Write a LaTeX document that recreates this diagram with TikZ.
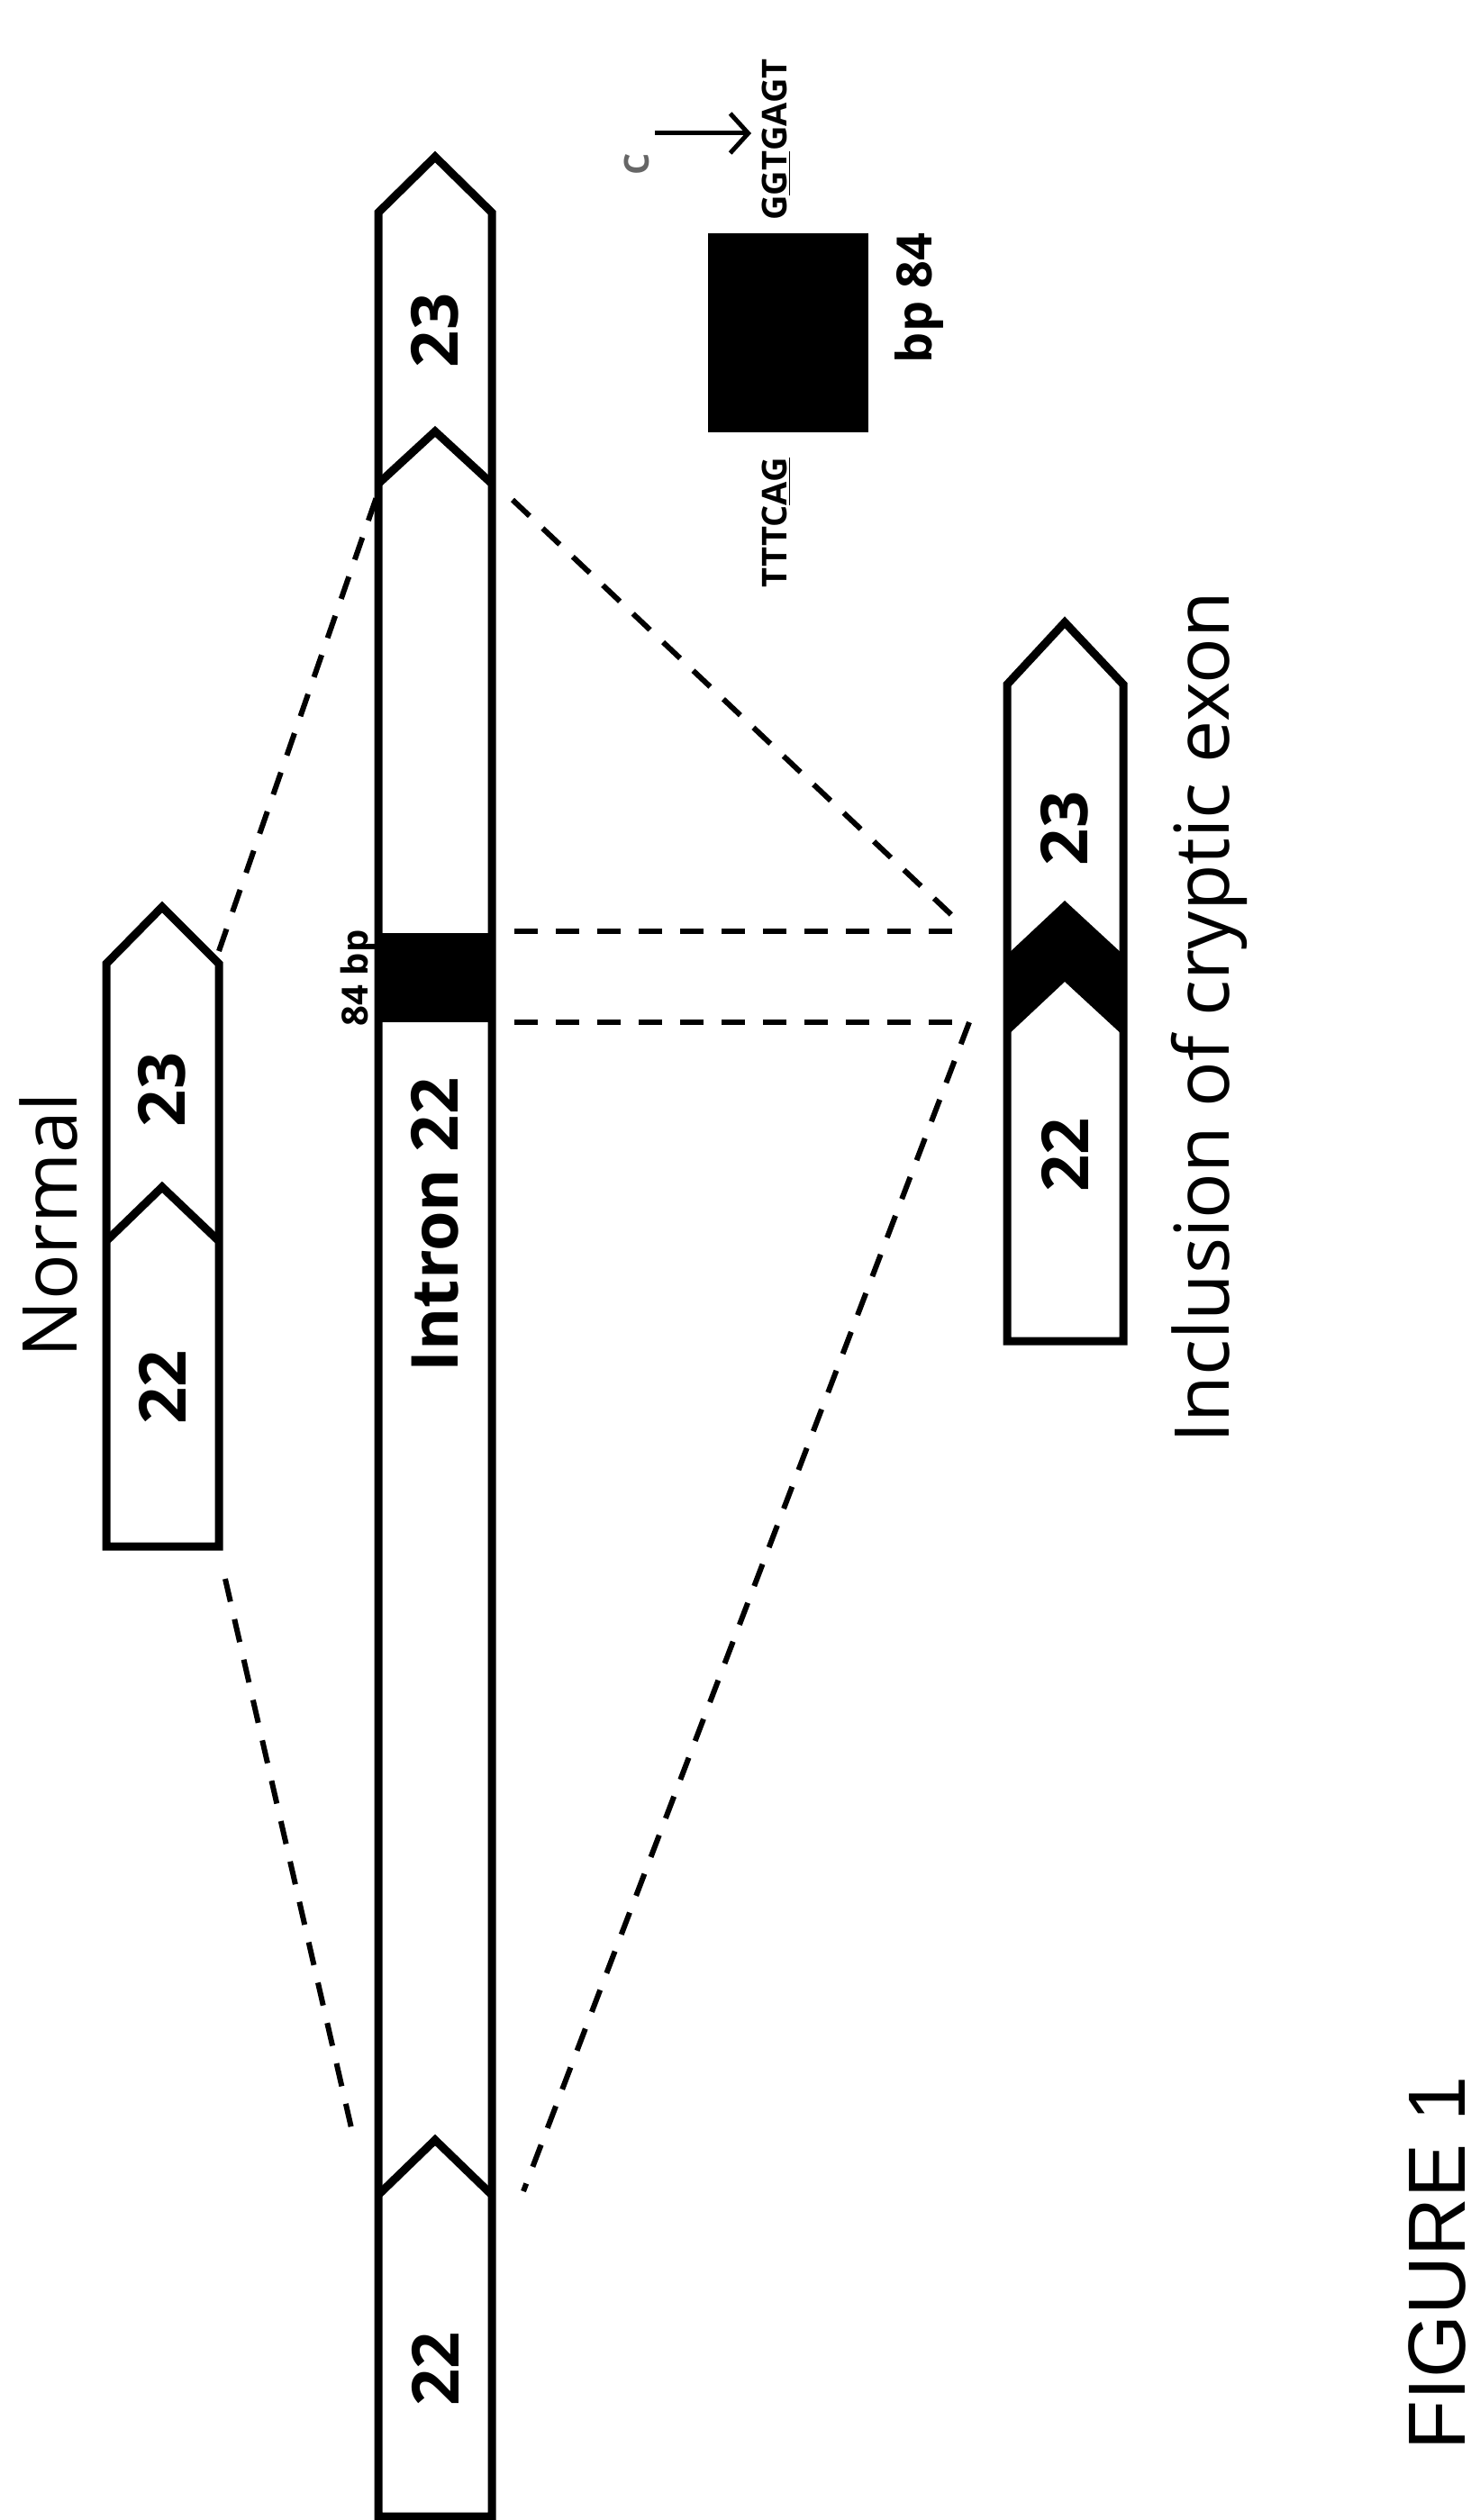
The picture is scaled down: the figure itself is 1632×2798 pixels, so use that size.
\documentclass[tikz,border=0pt]{standalone}
\usetikzlibrary{arrows.meta}
\usepackage{fontspec}
\setmainfont{Open Sans}
\newfontfamily\arialf{Liberation Sans}
\begin{document}
\begin{tikzpicture}[x=0.5pt,y=-0.5pt,
  box/.style={line width=4.5pt,line join=miter},
  dsh/.style={line width=3pt,dash pattern=on 13pt off 10pt},
  lbl/.style={rotate=90,inner sep=0pt,font=\bfseries\fontsize{36}{40}\selectfont},
  big/.style={rotate=90,inner sep=0pt,font=\fontsize{42}{48}\selectfont},
  seq/.style={rotate=90,inner sep=0pt,font=\bfseries\fontsize{19}{22}\selectfont}]
\useasboundingbox (0,0) rectangle (1632,2798);
% main bar
\fill (420,1036) rectangle (546,1135);
\draw[box] (420,2794)--(420,236)--(483,174)--(546,236)--(546,2794)--cycle;
\draw[box] (420,537)--(483,479)--(546,537);
\draw[box] (420,2437)--(483,2376)--(546,2437);
\node[lbl] (e23) at (483,367) {23};
\node[lbl] (e22) at (483,2630) {22};
\node[lbl] (intr) at (483,1360) {Intron 22};
\node[rotate=90,inner sep=0pt,font=\bfseries\fontsize{20}{24}\selectfont] (bp) at (398,1086) {84 bp};
% normal
\draw[box] (118,1717)--(118,1070)--(180,1007)--(243,1070)--(243,1717)--cycle;
\draw[box] (118,1378)--(180,1318)--(243,1378);
\node[lbl] (n23) at (180,1210) {23};
\node[lbl] (n22) at (180,1540) {22};
\node[big] (normal) at (54,1360) {Normal};
% inclusion
\fill (1118,1150)--(1182,1090)--(1247,1150)--(1247,1060)--(1182,1000)--(1118,1060)--cycle;
\draw[box] (1118,1489)--(1118,760)--(1182,691)--(1247,760)--(1247,1489)--cycle;
\node[lbl] (i23) at (1182,920) {23};
\node[lbl] (i22) at (1182,1282) {22};
\node[big] (incl) at (1342,1130) {Inclusion of cryptic exon};
% dashed connectors
\coordinate (a1) at (243,1056); \coordinate (a2) at (420,546);
\coordinate (b1) at (250,1753); \coordinate (b2) at (394,2380);
\coordinate (c1) at (569,555); \coordinate (c2) at (1066,1025);
\coordinate (d1) at (571,1034); \coordinate (d2) at (1069,1034);
\coordinate (f1) at (571,1135); \coordinate (f2) at (1069,1135);
\coordinate (g1) at (1076,1135); \coordinate (g2) at (581,2433);
\draw[dsh] (a1)--(a2);
\draw[dsh] (b1)--(b2);
\draw[dsh] (c1)--(c2);
\draw[dsh] (d1)--(d2);
\draw[dsh] (f1)--(f2);
\draw[dsh] (g1)--(g2);
% cryptic exon detail
\fill (786,259) rectangle (964,480);
\node[seq,anchor=west] (s1) at (862,245) {G\underline{GT}GAGT};
\node[seq,anchor=east] (s2) at (862,508) {TTTC\underline{AG}};
\node[rotate=90,inner sep=0pt,font=\bfseries\fontsize{27}{30}\selectfont] (bp84) at (1020,331) {bp 84};
\node[seq,text=black!60] (cc) at (707,182) {C};
\coordinate (ar1) at (727,148); \coordinate (ar2) at (834,148);
\draw[line width=2.5pt,-{Straight Barb[length=10pt,width=22pt]}] (ar1)--(ar2);
\node[rotate=90,anchor=base,inner sep=0pt,font=\arialf\fontsize{45}{50}\selectfont] (fig) at (1626,2513) {FIGURE 1};
\end{tikzpicture}
\end{document}
